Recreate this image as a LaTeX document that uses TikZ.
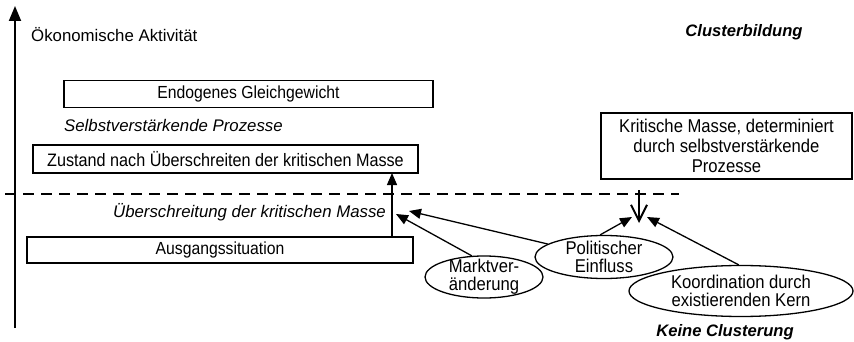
\documentclass[tikz,border=0pt]{standalone}
\usepackage{fontspec}
\setmainfont[FakeStretch=0.9]{Liberation Sans}
\newfontfamily\plainsans{Liberation Sans}
\usetikzlibrary{arrows.meta,shapes.geometric}
\begin{document}
\begin{tikzpicture}[x=1pt,y=-1pt,
  font=\fontsize{17.5}{19}\selectfont,
  box/.style={draw,line width=1.3pt,inner sep=0pt,minimum height=#1},
  oval/.style={draw,ellipse,line width=1.3pt,inner xsep=0pt,inner ysep=-5pt,align=center,font=\fontsize{18.5}{18}\selectfont},
  lbl/.style={inner sep=0pt,font=\plainsans\fontsize{16.8}{18}\selectfont\itshape},
  hd/.style={inner sep=0pt,font=\plainsans\fontsize{16.6}{18}\selectfont\bfseries\itshape},
  arr/.style={line width=1.3pt,-{Triangle[length=12pt,width=10pt]}},
  axis/.style={line width=1.8pt,-{Triangle[length=15pt,width=12pt]}}
]
\useasboundingbox (0,0) rectangle (854,342);
% axis
\coordinate (ax0) at (15,328);
\coordinate (ax1) at (15,6);
\draw[axis] (ax0) -- (ax1);
\node[anchor=west,inner sep=0pt,font=\plainsans\fontsize{16.8}{18}\selectfont] (ylab) at (31,35) {Ökonomische Aktivität};
\node[hd] (cb) at (744,32) {Clusterbildung};
% boxes
\node[box=27pt,minimum width=369pt] (endo) at (248.5,94) {Endogenes Gleichgewicht};
\node[lbl,anchor=west] (selbst) at (64,125) {Selbstverstärkende Prozesse};
\node[box=28pt,minimum width=385pt,font=\fontsize{18}{19}\selectfont] (zust) at (225.5,159) {Zustand nach Überschreiten der kritischen Masse};
\node[box=26pt,minimum width=386pt] (ausg) at (220,250) {Ausgangssituation};
\node[lbl,anchor=east] (ueber) at (386,212) {Überschreitung der kritischen Masse};
\node[box=66pt,minimum width=251pt,align=center,font=\fontsize{18.5}{20}\selectfont] (krit) at (726.5,146) {Kritische Masse, determiniert\\durch selbstverstärkende\\Prozesse};
% dashed line
\coordinate (d0) at (5,194);
\coordinate (d1) at (679,194);
\draw[line width=1.8pt,dash pattern=on 11pt off 7pt] (d0) -- (d1);
% vertical arrow
\coordinate (va0) at (392,237);
\coordinate (va1) at (392,173);
\draw[arr] (va0) -- (va1);
% down arrow
\coordinate (kd0) at (639,190);
\coordinate (kd1) at (639,223);
\draw[line width=1.8pt,-{Straight Barb[length=16pt,width=16pt,line width=2pt]}] (kd0) -- (kd1);
% ellipses
\node[oval,minimum width=118pt,minimum height=42pt] (markt) at (484,277) {Marktver-\\änderung};
\node[oval,minimum width=138pt,minimum height=43pt] (polit) at (604,257) {Politischer\\Einfluss};
\node[oval,minimum width=224pt,minimum height=51pt] (koord) at (741,291) {Koordination durch\\existierenden Kern};
\node[hd] (kc) at (725,332) {Keine Clusterung};
% influence arrows
\coordinate (t1) at (396,214);
\coordinate (t2) at (409,211);
\coordinate (t3) at (632,217);
\coordinate (t4) at (647,217);
\draw[arr] (markt.120) -- (t1);
\draw[arr] (polit.167) -- (t2);
\draw[arr] (polit.100) -- (t3);
\draw[arr] (koord.95) -- (t4);
\end{tikzpicture}
\end{document}
